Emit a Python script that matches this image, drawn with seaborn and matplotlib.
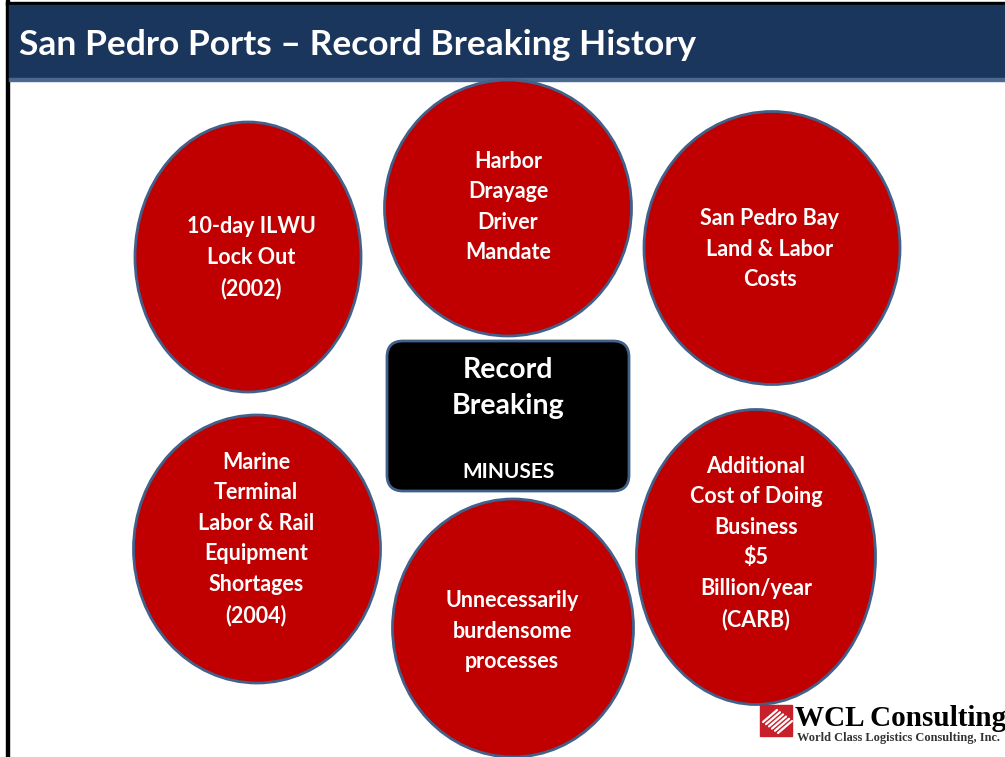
import matplotlib.pyplot as plt
import seaborn as sns
from matplotlib.patches import Ellipse, FancyBboxPatch, Rectangle

title = "San Pedro Ports \u2013 Record Breaking History"
center_lines = ["Record", "Breaking"]
center_sub = "MINUSES"
bubble_labels = [
    "10-day ILWU\nLock Out\n(2002)",
    "Harbor\nDrayage\nDriver\nMandate",
    "San Pedro Bay\nLand & Labor\nCosts",
    "Marine\nTerminal\nLabor & Rail\nEquipment\nShortages\n(2004)",
    "Unnecessarily\nburdensome\nprocesses",
    "Additional\nCost of Doing\nBusiness\n$5\nBillion/year\n(CARB)",
]
logo_name = "WCL Consulting"
logo_sub = "World Class Logistics Consulting, Inc."

# layout in pixel units (x, y, width, height, text x, text y)
bubble_geom = [
    (248, 257, 226, 270, 251, 258),
    (508, 208, 247, 256, 508, 207),
    (772, 248, 256, 273, 770, 249),
    (257, 549, 247, 268, 256, 539),
    (513, 628, 241, 258, 512, 631),
    (756, 557, 239, 295, 756, 543),
]

sns.set_theme(style="white")
plt.rcParams["font.family"] = ["Lato", "DejaVu Sans"]

fig = plt.figure(figsize=(10.05, 7.57), dpi=100)
ax = fig.add_axes([0, 0, 1, 1])
ax.set_xlim(0, 1005)
ax.set_ylim(757, 0)
ax.axis("off")

red = "#c00000"
edge = "#41608a"
navy = "#1b365d"

# frame + title bar
ax.add_patch(Rectangle((6, 0), 3, 757, color="black", zorder=1))
ax.add_patch(Rectangle((6, 2), 999, 3, color="black", zorder=1))
ax.add_patch(Rectangle((9, 5), 996, 75, color=navy, zorder=1))
ax.add_patch(Rectangle((9, 78), 996, 3, color="#4a6890", zorder=1))
ax.text(19, 45, title, color="white", fontsize=25.5, fontweight="bold",
        va="center", ha="left", zorder=2)

for (cx, cy, w, h, tx, ty), label in zip(bubble_geom, bubble_labels):
    ax.add_patch(Ellipse((cx, cy), w, h, facecolor=red, edgecolor=edge,
                         linewidth=2, zorder=3))
    ax.text(tx, ty, label, color="white", fontsize=15.5, fontweight="bold",
            ha="center", va="center", linespacing=1.56, zorder=4)

# centre box
ax.add_patch(FancyBboxPatch((387, 341), 242, 150,
                            boxstyle="round,pad=0,rounding_size=16",
                            facecolor="black", edgecolor=edge, linewidth=2,
                            zorder=5))
ax.text(508, 388, "\n".join(center_lines), color="white", fontsize=20.5,
        fontweight="bold", ha="center", va="center", linespacing=1.45,
        zorder=6)
ax.text(508, 472, center_sub, color="white", fontsize=15, fontweight="bold",
        ha="center", va="center", zorder=6)

# logo
ax.add_patch(Rectangle((760, 705), 32, 31, color="#c8202a", zorder=5))
for k in range(6):
    x0 = 763 + k * 3
    ax.plot([x0, x0 + 14], [722 + k * 2.2, 710 + k * 2.2],
            color="white", linewidth=1.6, zorder=6)
ax.text(795, 718, logo_name, family="Liberation Serif", fontsize=21,
        fontweight="bold", color="black", ha="left", va="center", zorder=6)
ax.text(797, 738, logo_sub, family="Liberation Serif", fontsize=8.9,
        fontweight="bold", color="#333333", ha="left", va="center", zorder=6)

fig.savefig("out.png", dpi=100, facecolor="white")
